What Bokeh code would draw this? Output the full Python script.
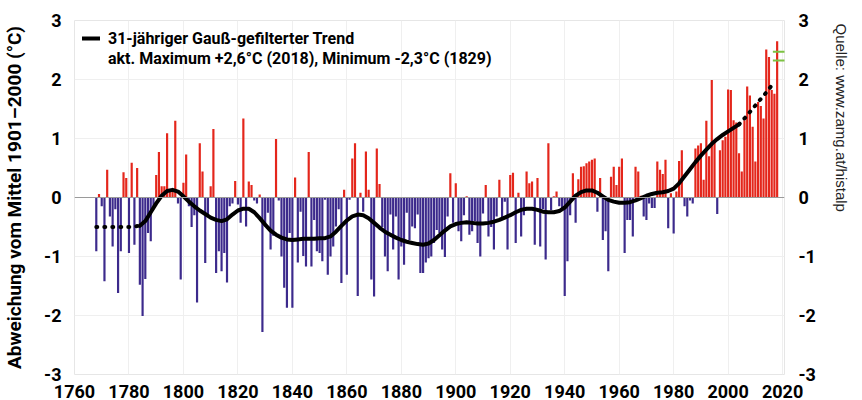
from bokeh.plotting import figure
from bokeh.models import (Range1d, LinearAxis, FixedTicker, Span, Legend,
                          LegendItem, ColumnDataSource, Title)
from bokeh.embed import file_html
from bokeh.resources import INLINE

# ---------------- data ----------------
start_year = 1768
anomalies = [
    -0.91, 0.06, -0.15, -1.42, 0.47, -0.32, -0.83, -0.20, -1.62, -0.91,   # 1768-1777
    0.43, 0.33, -0.94, 0.59, -0.80, 0.50, -1.48, -2.01, -1.38, -0.60,     # 1778-1787
    -0.74, -0.15, 0.38, 0.77, 0.19, 0.19, 1.09, 0.10, 0.10, 1.30,         # 1788-1797
    -0.10, -1.39, 0.25, 0.73, -0.15, -0.50, -0.30, -1.78, 0.92, 0.44,     # 1798-1807
    -1.11, -0.30, 0.19, 1.16, -1.28, -0.91, -1.25, -0.94, -1.44, -0.15,   # 1808-1817
    -0.10, 0.28, -0.12, -0.43, 1.34, -0.49, 0.27, 0.21, -0.05, -0.10,     # 1818-1827
    0.05, -2.28, -0.49, -0.26, -0.88, -0.65, 0.99, -0.05, -1.00, -1.53,   # 1828-1837
    -1.87, -0.60, -1.87, 0.34, -1.10, -0.24, -0.99, -1.17, 0.77, -1.17,   # 1838-1847
    -0.38, -0.91, -0.94, -1.08, -0.04, -1.31, -1.00, -0.83, -0.49, -0.20, # 1848-1857
    -1.45, 0.13, -1.31, -0.04, 0.66, 0.92, -1.67, 0.08, -0.24, 0.78,      # 1858-1867
    0.13, -1.39, -1.68, 0.83, 0.23, -0.50, -1.00, -1.25, -0.29, -0.88,    # 1868-1877
    -0.32, -1.39, -0.83, -1.14, -0.26, -0.72, -0.49, -0.52, -0.29, -1.28, # 1878-1887
    -1.28, -1.10, -1.03, -1.00, -0.77, -0.55, -0.60, -0.88, -1.01, -0.32, # 1888-1897
    0.41, -0.43, 0.24, -0.57, -0.74, -0.30, 0.02, -0.63, -0.57, -0.40,    # 1898-1907
    -0.77, -1.00, -0.27, 0.21, -0.66, -0.50, -0.88, -0.32, 0.30, -0.38,   # 1908-1917
    -0.07, -0.88, 0.38, 0.42, -0.77, 0.08, -0.66, -0.30, 0.44, 0.24,      # 1918-1927
    0.27, -0.80, 0.33, -0.83, -0.20, -1.05, 0.92, -0.21, 0.02, 0.10,      # 1928-1937
    -0.15, -0.18, -1.67, -1.08, -0.30, 0.41, -0.43, 0.31, 0.52, 0.53,     # 1938-1947
    0.58, 0.61, 0.64, 0.66, -0.24, 0.33, -0.72, -0.57, -1.25, 0.35,       # 1948-1957
    0.52, 0.21, 0.52, 0.66, -0.94, -0.38, -0.38, -0.66, 0.52, 0.44,       # 1958-1967
    0.03, -0.32, -0.38, -0.10, -0.18, -0.18, 0.61, 0.47, 0.40, 0.64,      # 1968-1977
    -0.52, 0.07, -0.61, 0.10, 0.62, 0.80, -0.15, -0.32, -0.05, -0.10,     # 1978-1987
    0.83, 0.88, 0.92, 0.30, 1.30, 0.70, 1.99, 0.95, -0.28, 0.80,          # 1988-1997
    0.97, 1.03, 1.83, 1.82, 1.31, 1.27, 0.75, 0.44, 1.31, 1.88,           # 1998-2007
    1.73, 1.20, 0.61, 1.62, 1.55, 1.34, 2.51, 2.38, 1.82, 1.76,           # 2008-2017
    2.65,                                                                 # 2018
]
years = [start_year + i for i in range(len(anomalies))]

trend_years = [1768, 1772, 1776, 1780, 1784, 1786, 1788, 1790, 1792, 1794, 1796, 1798,
               1800, 1802, 1804, 1806, 1808, 1810, 1812, 1814, 1816, 1818, 1820, 1822,
               1824, 1826, 1828, 1830, 1832, 1834, 1836, 1838, 1840, 1842, 1844, 1846,
               1848, 1850, 1852, 1854, 1856, 1858, 1860, 1862, 1864, 1866, 1868, 1870,
               1872, 1874, 1876, 1878, 1880, 1882, 1884, 1886, 1888, 1890, 1892, 1894,
               1896, 1898, 1900, 1902, 1904, 1906, 1908, 1910, 1912, 1914, 1916, 1918,
               1920, 1922, 1924, 1926, 1928, 1930, 1932, 1934, 1936, 1938, 1940, 1942,
               1944, 1946, 1948, 1950, 1952, 1954, 1956, 1958, 1960, 1962, 1964, 1966,
               1968, 1970, 1972, 1974, 1976, 1978, 1980, 1982, 1984, 1986, 1988, 1990,
               1992, 1994, 1996, 1998, 2000, 2002, 2004, 2006, 2008, 2010, 2012, 2014,
               2016, 2017]
trend_values = [-0.50, -0.50, -0.50, -0.50, -0.48, -0.40, -0.25, -0.10, 0.03, 0.11, 0.13, 0.10,
                0.02, -0.07, -0.15, -0.22, -0.28, -0.34, -0.38, -0.40, -0.37, -0.29, -0.22, -0.19,
                -0.19, -0.25, -0.35, -0.46, -0.56, -0.63, -0.68, -0.71, -0.72, -0.71, -0.70, -0.70,
                -0.70, -0.69, -0.69, -0.66, -0.58, -0.48, -0.39, -0.32, -0.29, -0.30, -0.35, -0.43,
                -0.51, -0.58, -0.63, -0.68, -0.72, -0.75, -0.77, -0.79, -0.80, -0.78, -0.72, -0.64,
                -0.56, -0.49, -0.45, -0.43, -0.42, -0.43, -0.44, -0.44, -0.43, -0.41, -0.38, -0.34,
                -0.30, -0.25, -0.21, -0.19, -0.19, -0.21, -0.24, -0.25, -0.25, -0.23, -0.17, -0.07,
                0.03, 0.09, 0.12, 0.12, 0.08, 0.02, -0.04, -0.07, -0.09, -0.09, -0.08, -0.05,
                -0.01, 0.03, 0.06, 0.08, 0.09, 0.11, 0.15, 0.24, 0.36, 0.48, 0.60, 0.71,
                0.81, 0.91, 0.99, 1.06, 1.12, 1.18, 1.24, 1.34, 1.45, 1.56, 1.67, 1.78,
                1.90, 1.96]
trend_solid_from = 1784
trend_solid_to = 2004

record_mark_years = [2019.0, 2019.0]
record_mark_values = [2.47, 2.32]

x_ticks = [1760, 1780, 1800, 1820, 1840, 1860, 1880, 1900, 1920, 1940, 1960, 1980, 2000, 2020]
y_ticks = [-3, -2, -1, 0, 1, 2, 3]
y_tick_labels = ["-3", "-2", "-1", "0", "1", "2", "3"]

legend_label = "31-jähriger Gauß-gefilterter Trend"
extremes_text = "akt. Maximum +2,6°C (2018), Minimum -2,3°C (1829)"
y_label = "Abweichung vom Mittel 1901–2000 (°C)"
source_text = "Quelle: www.zamg.at/histalp"

# ---------------- styling ----------------
FONT = "Roboto"
RED = "#e4261b"
BLUE = "#3c2a8c"

p = figure(width=862, height=400, x_range=Range1d(1760, 2020.7), y_range=Range1d(-3, 3),
           output_backend="svg", toolbar_location=None,
           min_border_left=73, min_border_right=72, min_border_top=20, min_border_bottom=25)

p.outline_line_color = "#e6e6e6"
p.background_fill_color = "white"

bar_src = ColumnDataSource(dict(x=years, top=anomalies,
                                color=[RED if v >= 0 else BLUE for v in anomalies]))
p.vbar(x="x", top="top", bottom=0, width=0.8, fill_color="color", line_color=None, source=bar_src)

p.add_layout(Span(location=0, dimension="width", line_color="#9a9a9a", line_width=1))

left_x = [y for y in trend_years if y <= trend_solid_from]
left_y = [v for y, v in zip(trend_years, trend_values) if y <= trend_solid_from]
mid_x = [y for y in trend_years if trend_solid_from <= y <= trend_solid_to]
mid_y = [v for y, v in zip(trend_years, trend_values) if trend_solid_from <= y <= trend_solid_to]
right_x = [y for y in trend_years if y >= trend_solid_to]
right_y = [v for y, v in zip(trend_years, trend_values) if y >= trend_solid_to]

p.line(left_x, left_y, line_color="black", line_width=4, line_dash="1 7", line_cap="round")
p.line(right_x, right_y, line_color="black", line_width=4, line_dash="1 7", line_cap="round")
trend = p.line(mid_x, mid_y, line_color="black", line_width=4, line_cap="round", line_join="round")
# invisible renderer so that the second legend row carries only text
blank = p.line(x=[], y=[], line_alpha=0)

p.scatter(record_mark_years, record_mark_values, marker="dash", size=14,
          line_color="#7cc242", line_width=2)

# grid
p.xgrid.ticker = FixedTicker(ticks=x_ticks)
p.ygrid.ticker = FixedTicker(ticks=y_ticks)
p.xgrid.grid_line_color = "#efefef"
p.ygrid.grid_line_color = "#efefef"

overrides = {t: s for t, s in zip(y_ticks, y_tick_labels)}

def style_axis(ax):
    ax.axis_line_color = None
    ax.major_tick_line_color = None
    ax.minor_tick_line_color = None
    ax.major_label_text_font = FONT
    ax.major_label_text_font_style = "bold"
    ax.major_label_text_font_size = "18px"
    ax.major_label_text_color = "black"

style_axis(p.xaxis[0])
style_axis(p.yaxis[0])
p.xaxis.ticker = FixedTicker(ticks=x_ticks)
p.xaxis.major_label_standoff = 4
p.yaxis.ticker = FixedTicker(ticks=y_ticks)
p.yaxis.major_label_overrides = overrides
p.yaxis.major_label_standoff = 7
p.yaxis.axis_label = y_label
p.yaxis.axis_label_text_font = FONT
p.yaxis.axis_label_text_font_style = "bold"
p.yaxis.axis_label_text_font_size = "19px"
p.yaxis.axis_label_text_color = "black"
p.yaxis.axis_label_standoff = 15

right = LinearAxis(ticker=FixedTicker(ticks=y_ticks))
style_axis(right)
right.major_label_overrides = overrides
right.major_label_standoff = 8
p.add_layout(right, "right")

p.add_layout(Title(text=source_text, align="left", vertical_align="top",
                   text_font="Liberation Sans", text_font_style="normal",
                   text_font_size="15px", text_color="#222222",
                   standoff=25, offset=3), "right")

# legend (two rows: trend glyph + text, then the extremes text)
legend = Legend(items=[LegendItem(label=legend_label, renderers=[trend]),
                       LegendItem(label=extremes_text, renderers=[blank])],
                location="top_left", margin=8, padding=9, spacing=0,
                glyph_width=18, glyph_height=20, label_height=20, label_standoff=8,
                label_text_font=FONT, label_text_font_style="bold",
                label_text_font_size="16px", label_text_color="black",
                border_line_color=None, background_fill_alpha=0)
p.add_layout(legend)

open("out.html", "w").write(file_html(p, INLINE))
